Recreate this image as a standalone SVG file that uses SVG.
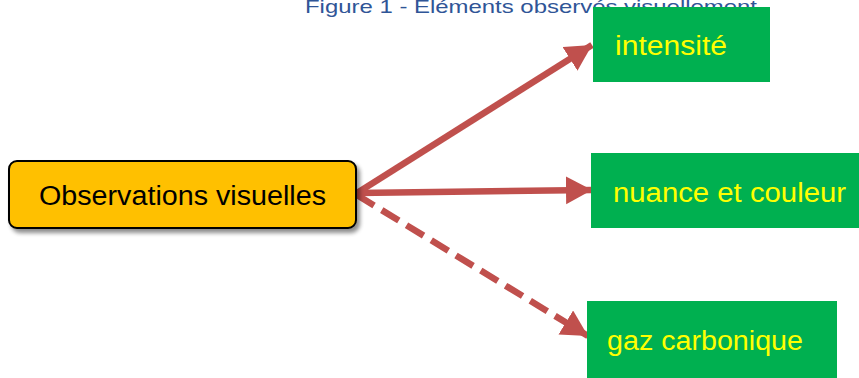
<svg xmlns="http://www.w3.org/2000/svg" width="859" height="378" viewBox="0 0 859 378">
  <style>
    .title { font-family: "Liberation Sans", Arial, sans-serif; font-size: 19px; fill: #2F5597; }
    .lbl { font-family: "Liberation Sans", Arial, sans-serif; font-size: 27px; }
    .leaf rect { fill: #00B050; }
    .leaf text { fill: #FFFF00; }
    .link { stroke: #C0504D; stroke-width: 6.5; fill: none; marker-end: url(#head); }
  </style>
  <defs>
    <marker id="head" markerUnits="userSpaceOnUse" markerWidth="28" markerHeight="30" refX="26" refY="14" orient="auto" viewBox="0 0 28 30">
      <path d="M0,0 L26,14 L0,28 z" fill="#C0504D"/>
    </marker>
    <filter id="shadow" x="-10%" y="-20%" width="130%" height="160%">
      <feGaussianBlur in="SourceAlpha" stdDeviation="2"/>
      <feOffset dx="3" dy="4" result="b"/>
      <feComponentTransfer><feFuncA type="linear" slope="0.45"/></feComponentTransfer>
      <feMerge><feMergeNode/><feMergeNode in="SourceGraphic"/></feMerge>
    </filter>
  </defs>
  <rect width="859" height="378" fill="#FFFFFF"/>

  <text class="title" x="305" y="13" textLength="452" lengthAdjust="spacingAndGlyphs">Figure 1 - Éléments observés visuellement</text>

  <!-- connectors -->
  <g id="connectors">
    <line class="link" x1="357" y1="193" x2="592" y2="45"/>
    <line class="link" x1="357" y1="193" x2="592" y2="190"/>
    <line class="link" x1="357" y1="195" x2="588" y2="336" stroke-dasharray="20 9"/>
  </g>

  <g id="observations">
    <rect x="9" y="161" width="347" height="67" rx="8" ry="8" fill="#FFC000" stroke="#000000" stroke-width="2" filter="url(#shadow)"/>
    <text class="lbl" x="39" y="205" fill="#000000" textLength="287" lengthAdjust="spacingAndGlyphs">Observations visuelles</text>
  </g>

  <g id="intensite" class="leaf">
    <rect x="593" y="7" width="177" height="75"/>
    <text class="lbl" x="615" y="55" textLength="112" lengthAdjust="spacingAndGlyphs">intensité</text>
  </g>

  <g id="nuance" class="leaf">
    <rect x="591" y="153" width="268" height="75"/>
    <text class="lbl" x="613" y="202" textLength="233" lengthAdjust="spacingAndGlyphs">nuance et couleur</text>
  </g>

  <g id="gaz" class="leaf">
    <rect x="587" y="301" width="250" height="77"/>
    <text class="lbl" x="607" y="350" textLength="196" lengthAdjust="spacingAndGlyphs">gaz carbonique</text>
  </g>
</svg>
